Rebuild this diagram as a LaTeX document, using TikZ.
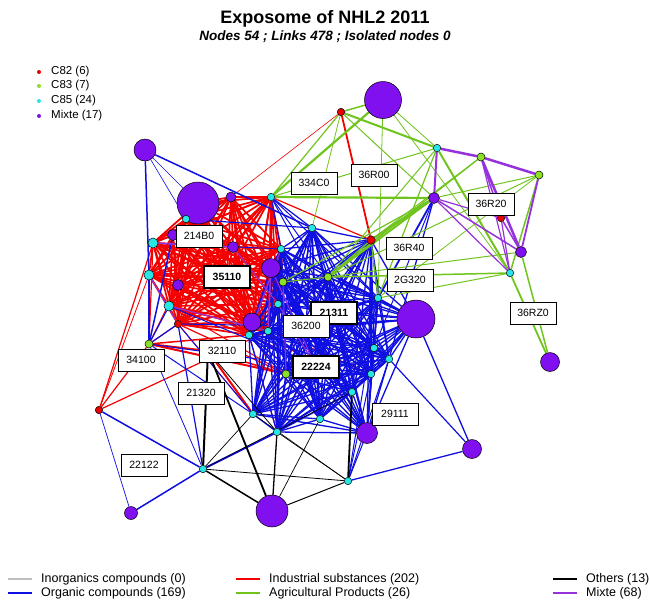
\documentclass[tikz,border=0pt]{standalone}
\usepackage{fontspec}
\setmainfont{Liberation Sans}
\pgfdeclarelayer{edges}
\pgfsetlayers{edges,main}
\definecolor{vPur}{RGB}{128,16,240}
\definecolor{vRed}{RGB}{230,0,0}
\definecolor{vGrn}{RGB}{140,225,40}
\definecolor{vCya}{RGB}{40,230,230}
\definecolor{eRed}{RGB}{245,0,0}
\definecolor{eBlu}{RGB}{15,15,225}
\definecolor{eGrn}{RGB}{112,196,30}
\definecolor{ePur}{RGB}{150,50,220}
\definecolor{eGry}{RGB}{190,190,190}
\tikzset{
 vx/.style={circle,draw=black,line width=0.5pt,inner sep=0pt},
 pu/.style={vx,fill=vPur,minimum size=#1},
 rd/.style={vx,fill=vRed,minimum size=#1}, rd/.default=7.5pt,
 gr/.style={vx,fill=vGrn,minimum size=8pt},
 cy/.style={vx,fill=vCya,minimum size=#1}, cy/.default=7.5pt,
 lab/.style={draw=black,line width=0.7pt,fill=white,inner sep=0pt,minimum width=46pt,minimum height=22pt,font=\fontsize{10.5}{12}\selectfont},
 labb/.style={lab,line width=2pt,font=\fontsize{10.5}{12}\selectfont\bfseries},
 er/.style={eRed,line width=#1}, er/.default=1.7pt,
 eb/.style={eBlu,line width=#1}, eb/.default=1.3pt,
 eg/.style={eGrn,line width=#1}, eg/.default=1.2pt,
 ep/.style={ePur,line width=#1}, ep/.default=1.2pt,
 ek/.style={black,line width=#1}, ek/.default=1pt,
 legtxt/.style={anchor=west,inner sep=0pt,font=\fontsize{12.5}{14}\selectfont},
 toptxt/.style={anchor=west,inner sep=0pt,font=\fontsize{11.5}{13}\selectfont},
}
\newcommand\mycomplete[2]{%
 \foreach \a [count=\i] in {#2}{\foreach \b [count=\j] in {#2}{\ifnum\j>\i \draw[#1] (\a) -- (\b);\fi}}}
\begin{document}
\begin{tikzpicture}[x=1pt,y=-1pt]
\useasboundingbox (0,0) rectangle (650,600);
\begin{pgfonlayer}{edges}
\fill[white] (0,0) rectangle (650,600);
\end{pgfonlayer}
% ---------- vertices ----------
\node[pu=22pt] (P1) at (145,150) {};
\node[pu=42pt] (P2) at (198,203) {};
\node[pu=37pt] (P3) at (383,100) {};
\node[pu=10pt] (P4) at (231,197) {};
\node[pu=11pt] (P5) at (173,235) {};
\node[pu=11pt] (P6) at (233,247) {};
\node[pu=19pt] (P7) at (271,268) {};
\node[pu=11pt] (P8) at (178,285) {};
\node[pu=18pt] (P10) at (252,322) {};
\node[pu=38pt] (P11) at (416,319) {};
\node[pu=21pt] (P12) at (367,433) {};
\node[pu=19pt] (P13) at (472,449) {};
\node[pu=19pt] (P14) at (550,362) {};
\node[pu=32pt] (P15) at (272,511) {};
\node[pu=13pt] (P16) at (131,513) {};
\node[pu=11pt] (P17) at (434,198) {};
\node[pu=11pt] (P18) at (521,252) {};
\node[rd] (R1) at (341,112) {};
\node[rd=8.5pt] (R2) at (371,240) {};
\node[rd] (R3) at (501,218) {};
\node[rd] (R4) at (99,410) {};
\node[rd] (R5) at (178,324) {};
\node[gr] (G1) at (481,157) {};
\node[gr] (G2) at (539,175) {};
\node[gr] (G3) at (328,277) {};
\node[gr] (G4) at (283,282) {};
\node[gr] (G5) at (286,374) {};
\node[gr] (G6) at (149,344) {};
\node[cy] (C1) at (437,148) {};
\node[cy] (C2) at (510,273) {};
\node[cy] (C3) at (312,228) {};
\node[cy] (C4) at (271,197) {};
\node[cy] (C5) at (186,219) {};
\node[cy=10pt] (C6) at (153,243) {};
\node[cy=10pt] (C7) at (149,275) {};
\node[cy=10pt] (C8) at (169,306) {};
\node[cy] (C9) at (281,249) {};
\node[cy] (C10) at (278,304) {};
\node[cy] (C11) at (268,331) {};
\node[cy] (C12) at (249,335) {};
\node[cy] (C14) at (378,298) {};
\node[cy] (C15) at (374,348) {};
\node[cy] (C16) at (389,359) {};
\node[cy] (C17) at (371,374) {};
\node[cy] (C18) at (352,392) {};
\node[cy] (C19) at (320,419) {};
\node[cy] (C20) at (348,481) {};
\node[cy] (C21) at (253,414) {};
\node[cy] (C22) at (277,432) {};
\node[cy] (C23) at (203,469) {};
\coordinate (H35) at (227,277);
\coordinate (H21) at (334,313);
\coordinate (H36) at (306,326);
\coordinate (H22) at (316,367);
\coordinate (H32) at (208,351);
% ---------- edges ----------
\begin{pgfonlayer}{edges}
\mycomplete{er}{C5,P4,C4,C9,P7,G4,C10,C11,C12,P10,R5,C8,P8,C7,C6,P5,P6,H35,P2}
\foreach \a/\b/\w in {R1/R2/1.8,R1/P4/0.6,C4/R2/1.2,G6/C6/1.2,G6/C7/1.2,G6/P8/1,G6/R5/1,G6/C12/1.5,G6/G5/2,G6/H32/2,
 H32/C21/2,H32/G5/1.5,R4/C6/1.2,R4/G6/1.2,R4/C11/1.2,R4/C7/0.8,R5/G5/1.2,C12/C19/1,P10/C17/1,C11/C21/1.5,
 P10/H22/1.2,C12/H22/1.5,G4/H21/1,P7/G3/1,C9/H21/1,R5/C21/1,C8/G5/1,P2/C4/1,P2/C6/1,C12/C22/1,
 C9/C14/0.8,P7/C17/0.8,C10/C16/0.8,G4/C15/0.8}
 {\draw[er=\w] (\a) -- (\b);}
\mycomplete{eb}{C3,R2,G3,C9,G4,C10,C11,C12,C14,C15,C16,C17,C18,C19,G5,C21,C22,P12,H21,H36,H22,P11,P7}
\foreach \a/\b/\w in {P1/P2/0.6,P1/C3/1.5,P1/C7/1.5,P1/C5/0.6,C7/G6/1.2,C5/C3/1.2,P5/G6/1.5,G6/C8/1.2,G6/R5/1.2,
 G6/C21/1,G6/C23/0.8,R5/C23/1.2,R5/C21/1,R4/C23/1.5,R4/P16/0.7,C23/C22/2,P16/C23/1.5,C20/P13/1.3,P13/P11/1.3,
 P13/C16/1.2,P12/C15/1,C20/P12/1,C20/C16/1,C20/C14/1,C20/C17/1,P17/C14/1.8,P17/C16/1.3,P17/C15/1,C4/C9/1,
 C4/C3/1.2,C4/C14/1,C4/H21/1,C4/G3/1,C6/C9/0.8,R5/H36/1,C8/H22/1,G6/H22/1,C12/C18/1}
 {\draw[eb=\w] (\a) -- (\b);}
\foreach \a/\b/\w in {R1/P3/1.5,R1/C1/2,R1/P17/1,R1/C4/1.2,R1/C3/0.8,P3/C4/2.2,P3/C1/0.8,P3/C14/0.8,P3/C2/0.8,
 C4/C1/1,C4/P17/2.2,R2/P17/2.5,G3/P17/2,G4/P17/1.2,G1/G3/1.2,G1/R2/1,C1/C2/2,C1/G3/1,C1/C14/1.2,G2/G3/1,
 G2/C2/1.5,G2/P17/1,G2/C14/0.8,C2/G3/1.5,C2/C14/1,C2/P14/1.8,P18/P14/1.5,P18/G3/1,R2/G3/1.5,R2/C14/1,G3/G4/1}
 {\draw[eg=\w] (\a) -- (\b);}
\foreach \a/\b/\w in {C1/P17/2,C1/G1/2.5,G1/G2/2.5,G1/P18/2.5,G1/R3/1.5,G1/C2/1.2,G2/P18/1.8,P17/R3/1.2,
 P17/P18/1.5,P17/C2/1.2,R3/P18/1.5,R3/C2/1.2,C6/P6/1.5,C7/R5/1.2,P7/C11/1.5,C9/C12/1.2,P6/C10/1,
 G4/G5/1,P7/H22/1,C10/H22/1,C8/C11/1.2}
 {\draw[ep=\w] (\a) -- (\b);}
\foreach \a/\b/\w in {H32/C23/2,H32/P15/1.8,C23/P15/1.5,C23/C20/0.8,C23/C21/0.7,P15/C22/1.3,P15/C20/1,
 P15/C19/0.7,C22/C20/0.7,C20/C18/1.8,H32/C22/0.8,C23/C18/0.6,C21/C20/0.6}
 {\draw[ek=\w] (\a) -- (\b);}
\end{pgfonlayer}
% ---------- labels ----------
\node[lab] (l334C0) at (314,183) {334C0};
\node[lab] (l36R00) at (374,175) {36R00};
\node[lab] (l36R20) at (491,204) {36R20};
\node[lab] (l214B0) at (199,236) {214B0};
\node[lab] (l36R40) at (409,248) {36R40};
\node[labb] (l35110) at (227,277) {35110};
\node[lab] (l2G320) at (410,280) {2G320};
\node[labb] (l21311) at (334,313) {21311};
\node[lab] (l36200) at (306,326) {36200};
\node[lab] (l36RZ0) at (533,313) {36RZ0};
\node[lab] (l32110) at (222,351) {32110};
\node[lab] (l34100) at (141,360) {34100};
\node[labb] (l22224) at (316,367) {22224};
\node[lab] (l21320) at (201,393) {21320};
\node[lab] (l29111) at (395,414) {29111};
\node[lab] (l22122) at (144,465) {22122};
% ---------- titles ----------
\node[font=\fontsize{18}{20}\selectfont\bfseries] (title) at (325,19) {Exposome of NHL2 2011};
\node[font=\fontsize{13.5}{15}\selectfont\bfseries\itshape] (subtitle) at (325,37) {Nodes 54 ; Links 478 ; Isolated nodes 0};
% ---------- vertex legend ----------
\foreach \c/\t/\y [count=\k] in {vRed/C82 (6)/72,vGrn/C83 (7)/86,vCya/C85 (24)/101,vPur/Mixte (17)/116}{
 \node[circle,fill=\c,inner sep=0pt,minimum size=4pt] (vd\k) at (39,\y) {};
 \node[toptxt] (vt\k) at (51,\y) {\t};
}
% ---------- edge legend ----------
\foreach \c/\t/\x/\y [count=\k] in {eGry/Inorganics compounds (0)/8/579,eBlu/Organic compounds (169)/8/593,
 eRed/Industrial substances (202)/236/579,eGrn/Agricultural Products (26)/236/593,
 black/Others (13)/553/579,ePur/Mixte (68)/553/593}{
 \draw[\c,line width=2pt] (\x,\y) -- ++(24,0);
 \node[legtxt] (et\k) at (\x+33,\y) {\t};
}
\end{tikzpicture}
\end{document}
